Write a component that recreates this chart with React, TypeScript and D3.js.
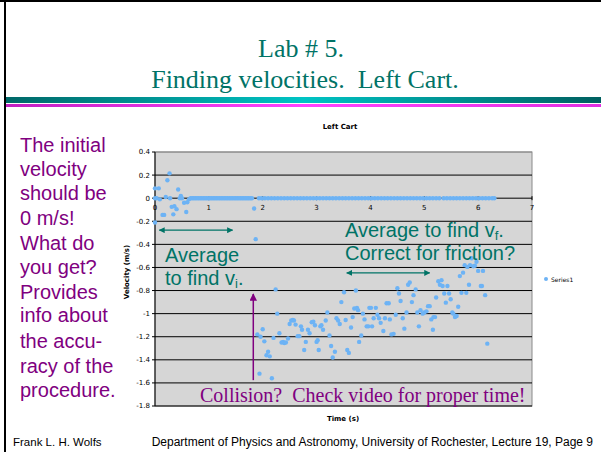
import React from "react";
import * as d3 from "d3";

// chart values
const yTicks = [0.4, 0.2, 0, -0.2, -0.4, -0.6, -0.8, -1, -1.2, -1.4, -1.6, -1.8];
const xTicks = [0, 1, 2, 3, 4, 5, 6, 7];

// cart at rest before the collision (jitter around zero)
const startPoints: [number, number][] = [
  [0, 0.085], [0, 0], [0, -0.21], [0.03, 0], [0.07, 0.085], [0.09, -0.01], [0.14, -0.145],
  [0.17, -0.145], [0.2, 0.01], [0.23, 0.155], [0.27, 0.215], [0.28, 0], [0.31, -0.075],
  [0.34, -0.14], [0.36, -0.07], [0.4, -0.095], [0.43, 0.075], [0.46, 0], [0.48, 0.02],
  [0.5, 0], [0.54, -0.04], [0.58, -0.12], [0.6, -0.035], [0.63, -0.01]
];

// times of the samples sitting on v = 0
const zeroTimes = [
  0.66, 0.69, 0.72, 0.75, 0.78, 0.81, 0.84, 0.87, 0.9, 0.93, 0.96, 0.99, 1.02, 1.05, 1.08,
  1.11, 1.14, 1.17, 1.2, 1.23, 1.26, 1.29, 1.32, 1.35, 1.38, 1.41, 1.44, 1.47, 1.5, 1.53,
  1.56, 1.59, 1.62, 1.65, 1.68, 1.71, 1.74, 1.77, 1.8,
  1.93, 1.98, 2.04, 2.1, 2.16, 2.22, 2.28, 2.34, 2.4, 2.46, 2.52, 2.58, 2.64, 2.7, 2.76,
  2.82, 2.88, 2.94, 3.0, 3.06, 3.12, 3.18, 3.24, 3.3, 3.36, 3.42, 3.48, 3.54, 3.6, 3.66,
  3.72, 3.78, 3.84, 3.9, 3.96, 4.02, 4.08, 4.14, 4.2, 4.26, 4.32, 4.38, 4.44, 4.5, 4.56,
  4.62, 4.68, 4.74, 4.8, 4.86, 4.92, 4.98, 5.04, 5.1, 5.16, 5.22, 5.28,
  5.36, 5.42, 5.48, 5.54, 5.6, 5.66, 5.72, 5.78, 5.84, 5.9, 5.96, 6.02, 6.08, 6.14, 6.2, 6.26, 6.3
];

// after the collision
const movingPoints: [number, number][] = [
  [1.84, -0.09], [1.87, -0.355], [1.9, -1.18], [1.94, -1.52], [1.96, -1.2], [2.0, -1.135],
  [2.03, -1.24], [2.07, -1.36], [2.1, -1.33], [2.13, -1.37], [2.17, -1.56], [2.2, -1.21],
  [2.24, -0.79], [2.27, -1.0], [2.31, -1.17], [2.35, -1.25], [2.38, -1.245], [2.4, -1.255],
  [2.43, -1.25], [2.47, -1.215], [2.5, -1.09], [2.53, -1.06], [2.56, -1.055], [2.58, -1.06],
  [2.61, -1.095], [2.65, -1.195], [2.68, -1.195], [2.71, -1.11], [2.73, -1.14], [2.77, -1.315],
  [2.8, -1.245], [2.84, -1.14], [2.87, -1.17], [2.91, -1.075], [2.94, -1.07], [2.97, -1.1],
  [3.0, -1.245], [3.02, -1.23], [3.04, -1.315], [3.07, -1.11], [3.09, -1.1], [3.12, -1.14],
  [3.17, -1.06], [3.2, -0.99], [3.24, -1.19], [3.27, -1.28], [3.3, -1.38], [3.34, -1.33],
  [3.37, -1.04], [3.4, -1.06], [3.43, -1.09], [3.46, -0.9], [3.51, -0.815], [3.54, -1.055],
  [3.57, -1.315], [3.6, -1.34], [3.64, -1.12], [3.67, -1.03], [3.7, -0.955], [3.73, -0.8],
  [3.75, -0.95], [3.77, -0.97], [3.79, -1.245], [3.83, -1.19], [3.86, -1.0], [3.89, -1.05],
  [3.93, -1.11], [3.96, -1.11], [3.98, -0.95], [4.01, -0.95], [4.03, -1.11], [4.06, -1.04],
  [4.1, -0.95], [4.13, -1.01], [4.16, -1.04], [4.19, -1.08], [4.24, -1.15], [4.27, -1.04],
  [4.3, -0.91], [4.34, -0.91], [4.36, -1.05], [4.39, -1.18], [4.43, -1.175], [4.47, -1.01],
  [4.5, -0.78], [4.53, -0.825], [4.56, -0.89], [4.6, -1.04], [4.63, -1.13], [4.67, -0.99],
  [4.7, -0.75], [4.73, -0.73], [4.77, -0.9], [4.8, -0.84], [4.84, -0.79], [4.87, -0.99],
  [4.9, -1.11], [4.93, -0.97], [4.97, -1.0], [5.0, -0.99], [5.04, -0.98], [5.07, -0.935],
  [5.1, -0.935], [5.13, -1.05], [5.16, -1.14], [5.17, -1.03], [5.2, -1.03], [5.22, -0.86],
  [5.26, -0.72], [5.29, -0.75], [5.32, -0.71], [5.34, -0.76], [5.37, -0.825], [5.4, -0.905],
  [5.43, -0.76], [5.46, -0.825], [5.49, -0.875], [5.52, -0.99], [5.54, -1.0], [5.57, -1.03],
  [5.6, -1.02], [5.63, -0.94], [5.66, -0.675], [5.69, -0.82], [5.72, -0.645], [5.75, -0.58],
  [5.78, -0.82], [5.8, -0.595], [5.83, -0.75], [5.85, -0.58], [5.88, -0.52], [5.91, -0.59],
  [5.94, -0.585], [5.97, -0.55], [6.0, -0.63], [6.05, -0.76], [6.07, -0.76], [6.09, -0.63],
  [6.13, -0.84], [6.17, -1.26]
];

const sideLines = [
  "The initial", "velocity", "should be", "0 m/s!", "What do", "you get?",
  "Provides", "info about", "the accu-", "racy of the", "procedure."
];
const sideBaselines = [152, 176, 200, 225, 250, 274, 299, 322, 348, 373, 397];

const TEAL = "#007366";
const PURPLE = "#800080";
const DOT = "#6db3f5";

export default function App() {
  const width = 601;
  const height = 452;
  const plot = { left: 155, right: 532, top: 152, bottom: 406 };

  const x = d3.scaleLinear().domain([0, 7]).range([plot.left, plot.right]);
  const y = d3.scaleLinear().domain([-1.8, 0.4]).range([plot.bottom, plot.top]);

  const allPoints: [number, number][] = [
    ...startPoints,
    ...zeroTimes.map((t) => [t, 0] as [number, number]),
    ...movingPoints
  ];

  const axisFont = "'DejaVu Sans', Verdana, sans-serif";
  const arial = "'Liberation Sans', Arial, sans-serif";
  const serif = "'Liberation Serif', 'Times New Roman', serif";

  return (
    <svg width={width} height={height} style={{ position: "absolute", left: 0, top: 0, background: "#fff" }}>
      <defs>
        <linearGradient id="tealBand" x1="0" x2="1" y1="0" y2="0">
          <stop offset="0" stopColor="#006868" />
          <stop offset="0.5" stopColor="#00c4c4" />
          <stop offset="1" stopColor="#006060" />
        </linearGradient>
        <linearGradient id="pinkBand" x1="0" x2="1" y1="0" y2="0">
          <stop offset="0" stopColor="#c020c0" />
          <stop offset="0.5" stopColor="#ff44ff" />
          <stop offset="1" stopColor="#e030e0" />
        </linearGradient>
        <marker id="tealHead" viewBox="0 0 10 10" refX="9" refY="5" markerWidth="5" markerHeight="5" orient="auto-start-reverse">
          <path d="M0,0 L10,5 L0,10 z" fill={TEAL} />
        </marker>
        <marker id="purpleHead" viewBox="0 0 10 10" refX="9" refY="5" markerWidth="5" markerHeight="5" orient="auto">
          <path d="M0,0 L10,5 L0,10 z" fill={PURPLE} />
        </marker>
      </defs>

      {/* slide frame */}
      <rect x={0} y={0} width={width} height={2} fill="#000" />
      <rect x={4} y={0} width={2} height={height} fill="#000" />

      {/* slide title */}
      <g fill={TEAL} fontFamily={serif} fontSize={26} textAnchor="middle">
        <text x={301} y={57} xmlSpace="preserve">Lab # 5.</text>
        <text x={305} y={88} xmlSpace="preserve" style={{ whiteSpace: "pre" }}>{"Finding velocities.  Left Cart."}</text>
      </g>
      <rect x={6} y={97} width={595} height={6} fill="url(#tealBand)" />
      <rect x={6} y={104} width={595} height={3} fill="url(#pinkBand)" />

      {/* side note */}
      <g fill={PURPLE} fontFamily={arial} fontSize={20}>
        {sideLines.map((s, i) => (
          <text key={s} x={20} y={sideBaselines[i]}>{s}</text>
        ))}
      </g>

      {/* chart */}
      <text x={340} y={129} fontFamily={axisFont} fontSize={7} fontWeight="bold" textAnchor="middle">Left Cart</text>
      <rect x={plot.left} y={plot.top} width={plot.right - plot.left} height={plot.bottom - plot.top} fill="#d6d6d6" stroke="#8a8a8a" strokeWidth={1} />
      {yTicks.map((v) => (
        <g key={v}>
          <line x1={plot.left} x2={plot.right} y1={y(v)} y2={y(v)} stroke={v === 0.4 ? "#8a8a8a" : "#000"} strokeWidth={1} />
          <line x1={plot.left - 3} x2={plot.left} y1={y(v)} y2={y(v)} stroke="#000" />
          <text x={plot.left - 5} y={y(v)} dy="0.35em" fontFamily={axisFont} fontSize={7} textAnchor="end">{v}</text>
        </g>
      ))}
      <line x1={plot.left} x2={plot.left} y1={plot.top} y2={plot.bottom} stroke="#000" />
      {xTicks.map((t) => (
        <g key={t}>
          <line x1={x(t)} x2={x(t)} y1={y(0) - 2} y2={y(0) + 2} stroke="#000" />
          <text x={x(t)} y={y(0) + 12} fontFamily={axisFont} fontSize={7} textAnchor="middle">{t}</text>
        </g>
      ))}
      <text x={343} y={421} fontFamily={axisFont} fontSize={7} fontWeight="bold" textAnchor="middle">Time (s)</text>
      <text transform={`translate(129,${272}) rotate(-90)`} fontFamily={axisFont} fontSize={7} fontWeight="bold" textAnchor="middle">Velocity (m/s)</text>

      <g fill={DOT}>
        {allPoints.map(([t, v], i) => (
          <circle key={i} cx={x(t)} cy={y(v)} r={2.2} />
        ))}
      </g>

      {/* legend */}
      <circle cx={546} cy={279} r={2} fill={DOT} />
      <text x={551} y={281.5} fontFamily={axisFont} fontSize={6}>Series1</text>

      {/* annotations */}
      <line x1={x(0.08)} x2={x(1.44)} y1={y(-0.277)} y2={y(-0.277)} stroke={TEAL} strokeWidth={1.2}
        markerStart="url(#tealHead)" markerEnd="url(#tealHead)" />
      <line x1={x(3.56)} x2={x(5.1)} y1={y(-0.647)} y2={y(-0.647)} stroke={TEAL} strokeWidth={1.2}
        markerStart="url(#tealHead)" markerEnd="url(#tealHead)" />
      <line x1={x(1.825)} x2={x(1.825)} y1={y(-1.576)} y2={y(-0.83)} stroke={PURPLE} strokeWidth={1.5}
        markerEnd="url(#purpleHead)" />

      <g fill={TEAL} fontFamily={arial} fontSize={20}>
        <text x={165} y={262}>Average</text>
        <text x={165} y={285}>to find v<tspan fontSize={13} dy={3}>i</tspan><tspan dy={-3}>.</tspan></text>
        <text x={345} y={237}>Average to find v<tspan fontSize={13} dy={3}>f</tspan><tspan dy={-3}>.</tspan></text>
        <text x={345} y={260}>Correct for friction?</text>
      </g>
      <text x={200} y={402} fill={PURPLE} fontFamily={serif} fontSize={20} xmlSpace="preserve" style={{ whiteSpace: "pre" }}>{"Collision?  Check video for proper time!"}</text>

      {/* footer */}
      <text x={13} y={446} fontFamily={arial} fontSize={11.5}>Frank L. H. Wolfs</text>
      <text x={593} y={446} fontFamily={arial} fontSize={12} textAnchor="end">Department of Physics and Astronomy, University of Rochester, Lecture 19, Page 9</text>
    </svg>
  );
}
